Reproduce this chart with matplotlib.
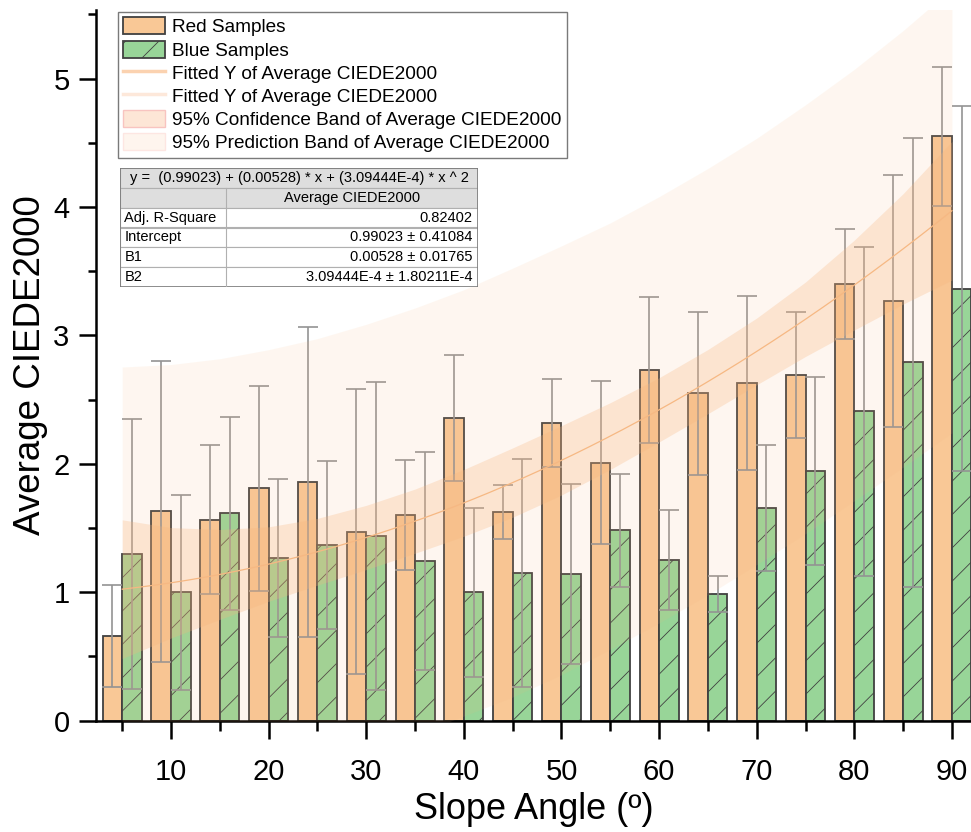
import numpy as np
import matplotlib.pyplot as plt
from matplotlib.patches import Patch, Rectangle
from matplotlib.lines import Line2D
from matplotlib.ticker import MultipleLocator

plt.rcParams['font.family'] = ['Liberation Sans', 'DejaVu Sans']
plt.rcParams['hatch.linewidth'] = 0.6

# slope angles (degrees) and mean colour difference per sample group
angles = [5, 10, 15, 20, 25, 30, 35, 40, 45, 50, 55, 60, 65, 70, 75, 80, 85, 90]
red_mean = [0.66, 1.63, 1.565, 1.81, 1.86, 1.47, 1.60, 2.36, 1.625, 2.32,
            2.01, 2.73, 2.55, 2.63, 2.69, 3.40, 3.27, 4.55]
red_err = [0.40, 1.17, 0.58, 0.80, 1.21, 1.11, 0.43, 0.49, 0.21, 0.345,
           0.635, 0.57, 0.635, 0.68, 0.49, 0.43, 0.98, 0.54]
blue_mean = [1.30, 1.00, 1.615, 1.27, 1.37, 1.44, 1.245, 1.00, 1.15, 1.145,
             1.485, 1.25, 0.99, 1.655, 1.945, 2.41, 2.79, 3.365]
blue_err = [1.05, 0.76, 0.75, 0.615, 0.655, 1.20, 0.85, 0.66, 0.89, 0.70,
            0.44, 0.39, 0.14, 0.49, 0.73, 1.28, 1.75, 1.42]

# quadratic fit of the average CIEDE2000 and half widths of its 95% bands
b0, b1, b2 = 0.99023, 0.00528, 3.09444e-4
conf_half = [0.54, 0.43, 0.35, 0.29, 0.26, 0.25, 0.25, 0.26, 0.27,
             0.27, 0.26, 0.25, 0.25, 0.26, 0.29, 0.35, 0.43, 0.54]
pred_half = [1.73, 1.70, 1.68, 1.67, 1.66, 1.66, 1.66, 1.66, 1.67,
             1.67, 1.66, 1.66, 1.66, 1.66, 1.67, 1.68, 1.70, 1.73]

table_rows = [('Adj. R-Square', '0.82402'),
              ('Intercept', '0.99023 \u00b1 0.41084'),
              ('B1', '0.00528 \u00b1 0.01765'),
              ('B2', '3.09444E-4 \u00b1 1.80211E-4')]
fit_label = 'y =  (0.99023) + (0.00528) * x + (3.09444E-4) * x ^ 2'

orange = '#f9c896'
green = '#98d598'
edge = '#404040'
band = '#f7b47c'

W, H = 971, 832
AX_L, AX_B, AX_T = 96, 720.7, 10
fig = plt.figure(figsize=(W / 100, H / 100), dpi=100)
ax = fig.add_axes([AX_L / W, 1 - AX_B / H, (W - AX_L) / W, (AX_B - AX_T) / H])

x = np.array(angles, dtype=float)
bw = 2.0
ax.bar(x - bw / 2, red_mean, bw, color=orange, edgecolor=edge, linewidth=1.3, zorder=2)
ax.bar(x + bw / 2, blue_mean, bw, color=green, edgecolor=edge, linewidth=1.3,
       hatch='/', zorder=2)
ax.errorbar(x - bw / 2, red_mean, yerr=red_err, fmt='none', ecolor='#939393',
            elinewidth=1.2, capsize=7, capthick=1.2, zorder=3)
ax.errorbar(x + bw / 2, blue_mean, yerr=blue_err, fmt='none', ecolor='#939393',
            elinewidth=1.2, capsize=7, capthick=1.2, zorder=3)

fit_pts = b0 + b1 * x + b2 * x ** 2
ax.fill_between(x, fit_pts - np.array(pred_half), fit_pts + np.array(pred_half),
                color=band, alpha=0.11, linewidth=0, zorder=4)
ax.fill_between(x, fit_pts - np.array(conf_half), fit_pts + np.array(conf_half),
                color=band, alpha=0.27, linewidth=0, zorder=4)
xs = np.linspace(5, 90, 200)
ax.plot(xs, b0 + b1 * xs + b2 * xs ** 2, color='#f6b883', lw=0.9, zorder=5)

ax.set_xlim(10 + (AX_L - 171) / 9.7625, 91.95)
ax.set_ylim(0, 5.535)
ax.xaxis.set_major_locator(MultipleLocator(10))
ax.xaxis.set_minor_locator(MultipleLocator(5))
ax.yaxis.set_major_locator(MultipleLocator(1))
ax.yaxis.set_minor_locator(MultipleLocator(0.5))
for s in ['top', 'right']:
    ax.spines[s].set_visible(False)
for s in ['left', 'bottom']:
    ax.spines[s].set_linewidth(1.8)
ax.tick_params(axis='x', which='major', length=13, width=1.8, pad=14, labelsize=21)
ax.tick_params(axis='x', which='minor', length=7, width=1.8)
ax.tick_params(axis='y', which='major', length=12, width=1.8, pad=7, labelsize=21)
ax.tick_params(axis='y', which='minor', length=6, width=1.8)
ax.set_xlabel('Slope Angle (\u00ba)', fontsize=26)
ax.set_ylabel('Average CIEDE2000', fontsize=26.5)
ax.xaxis.set_label_coords(0.5, (AX_B - 792) / (AX_B - AX_T))
ax.yaxis.set_label_coords((48 - AX_L) / (W - AX_L), 0.5)

handles = [
    Patch(facecolor=orange, edgecolor=edge, linewidth=1.3, label='Red Samples'),
    Patch(facecolor=green, edgecolor=edge, linewidth=1.3, hatch='/', label='Blue Samples'),
    Line2D([], [], color='#fbd2b0', lw=2.5, label='Fitted Y of Average CIEDE2000'),
    Line2D([], [], color='#fde8da', lw=2.5, label='Fitted Y of Average CIEDE2000'),
    Patch(facecolor='#fde6d6', edgecolor='#f8c4c0', label='95% Confidence Band of Average CIEDE2000'),
    Patch(facecolor='#fef5ee', edgecolor='#fde6e2', label='95% Prediction Band of Average CIEDE2000'),
]
leg = ax.legend(handles=handles, loc='upper left', bbox_to_anchor=(118 / W, 1 - 12 / H),
                bbox_transform=fig.transFigure, borderaxespad=0, fontsize=13.7,
                fancybox=False, framealpha=1, edgecolor='#7a7a7a',
                handlelength=2.2, handleheight=1.0, labelspacing=0.22,
                handletextpad=0.35, borderpad=0.28)
leg.get_frame().set_linewidth(1.0)

# fit statistics table
tx = fig.add_axes([120 / W, 1 - 287 / H, 358 / W, 119 / H])
tx.set_xlim(0, 1)
tx.set_ylim(6, 0)
tx.axis('off')
split = 0.296
for r in range(6):
    fc = '#dedede' if r < 2 else 'white'
    tx.add_patch(Rectangle((0, r), 1, 1, facecolor=fc, edgecolor='#b0b0b0', lw=0.8))
for r in range(1, 6):
    tx.plot([split, split], [r, r + 1], color='#b0b0b0', lw=0.8)
tx.add_patch(Rectangle((0, 0), 1, 6, facecolor='none', edgecolor='#7a7a7a', lw=1.2))
tx.text(0.5, 0.5, fit_label, ha='center', va='center', fontsize=10.5)
tx.text((1 + split) / 2, 1.5, 'Average CIEDE2000', ha='center', va='center', fontsize=10.5)
for i, (name, val) in enumerate(table_rows):
    tx.text(0.012, 2.5 + i, name, ha='left', va='center', fontsize=10.5)
    tx.text(0.985, 2.5 + i, val, ha='right', va='center', fontsize=10.5)

fig.savefig('out.png', dpi=100)
